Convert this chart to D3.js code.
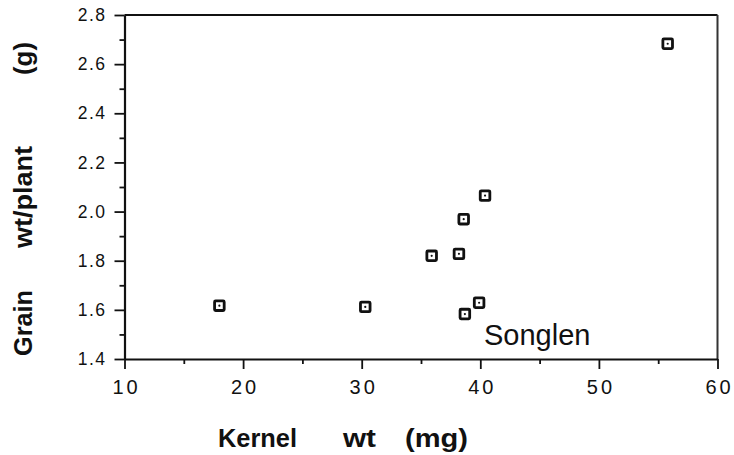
<!DOCTYPE html>
<html>
<head>
<meta charset="utf-8">
<script src="https://cdn.jsdelivr.net/npm/d3@7"></script>
<style>
  body { margin: 0; background: #fff; }
  svg { display: block; font-family: "Liberation Sans", Arial, Helvetica, sans-serif; }
  .axis path, .axis line { stroke: #111; }
  .axis text { fill: #111; }
</style>
</head>
<body>
<svg width="734" height="455"></svg>
<script>
// kernel weight (mg) and grain weight per plant (g)
var kernelWt = [18.0, 30.3, 35.9, 38.2, 38.6, 40.4, 38.7, 39.9, 55.8];
var grainWt  = [1.617, 1.612, 1.82, 1.828, 1.969, 2.065, 1.583, 1.629, 2.683];
var xTicks = [10, 20, 30, 40, 50, 60];
var yTicks = [1.4, 1.6, 1.8, 2.0, 2.2, 2.4, 2.6, 2.8];
var xMinor = [15, 25, 35, 45, 55];
var yMinor = [1.5, 1.7, 1.9, 2.1, 2.3, 2.5, 2.7];

var svg = d3.select("svg"),
    pLeft = 124.5, pRight = 717.5, pTop = 15, pBottom = 359;

var x = d3.scaleLinear().domain([10, 60]).range([pLeft, pRight]);
var y = d3.scaleLinear().domain([1.4, 2.8]).range([pBottom, pTop]);

// frame top + right
svg.append("line")
    .attr("x1", pLeft).attr("x2", pRight).attr("y1", pTop).attr("y2", pTop)
    .attr("stroke", "#111").attr("stroke-width", 2.2);
svg.append("line")
    .attr("x1", pRight).attr("x2", pRight).attr("y1", pTop).attr("y2", pBottom)
    .attr("stroke", "#333").attr("stroke-width", 2);

var xAxis = svg.append("g")
    .attr("class", "axis")
    .attr("transform", "translate(0," + pBottom + ")")
    .call(d3.axisBottom(x).tickValues(xTicks).tickSize(10).tickSizeOuter(0).tickPadding(11)
        .tickFormat(d3.format("d")));
xAxis.selectAll("text").style("font-size", "20px").style("letter-spacing", "3px")
    .attr("dx", "1.5px");
xAxis.select(".domain").attr("stroke-width", 2.2);
xAxis.selectAll("line").attr("stroke-width", 1.8);

svg.append("g")
    .attr("class", "axis")
    .attr("transform", "translate(0," + pBottom + ")")
    .call(d3.axisBottom(x).tickValues(xMinor).tickSize(5).tickFormat(""))
    .call(function (g) { g.select(".domain").remove(); })
    .selectAll("line").attr("stroke-width", 1.8);

var yAxis = svg.append("g")
    .attr("class", "axis")
    .attr("transform", "translate(" + pLeft + ",0)")
    .call(d3.axisLeft(y).tickValues(yTicks).tickSize(10).tickSizeOuter(0).tickPadding(8)
        .tickFormat(d3.format(".1f")));
yAxis.selectAll("text").style("font-size", "17.5px").style("letter-spacing", "1.5px");
yAxis.select(".domain").attr("stroke-width", 2.2);
yAxis.selectAll("line").attr("stroke-width", 1.8);

svg.append("g")
    .attr("class", "axis")
    .attr("transform", "translate(" + pLeft + ",0)")
    .call(d3.axisLeft(y).tickValues(yMinor).tickSize(5).tickFormat(""))
    .call(function (g) { g.select(".domain").remove(); })
    .selectAll("line").attr("stroke-width", 1.8);

// points: open squares with a dot in the middle
var pts = svg.append("g").selectAll("g")
    .data(kernelWt)
    .enter()
    .append("g")
    .attr("transform", function (d, i) { return "translate(" + x(d) + "," + y(grainWt[i]) + ")"; });

pts.append("rect")
    .attr("x", -4.8).attr("y", -4.8)
    .attr("width", 9.6).attr("height", 9.6)
    .attr("rx", 1)
    .attr("fill", "#fff").attr("stroke", "#111").attr("stroke-width", 2.8);
pts.append("circle")
    .attr("r", 1.1)
    .attr("fill", "#111");

svg.append("text")
    .attr("x", 484).attr("y", 345)
    .style("font-size", "29px")
    .attr("fill", "#111")
    .text("Songlen");

// axis titles, word by word (the original spaces them out a lot)
var xTitle = [{t: "Kernel", a: 218, w: 79}, {t: "wt", a: 343, w: 33}, {t: "(mg)", a: 405, w: 63}];
svg.append("g").selectAll("text")
    .data(xTitle)
    .enter()
    .append("text")
    .attr("x", function (d) {return d.a;})
    .attr("y", 447)
    .attr("textLength", function (d) {return d.w;})
    .attr("lengthAdjust", "spacingAndGlyphs")
    .style("font-size", "26px").style("font-weight", "bold")
    .attr("fill", "#111")
    .text(function (d) {return d.t;});

var yTitle = [{t: "Grain", a: 356, w: 66}, {t: "wt/plant", a: 248, w: 102}, {t: "(g)", a: 75, w: 33}];
svg.append("g").selectAll("text")
    .data(yTitle)
    .enter()
    .append("text")
    .attr("transform", function (d) {return "translate(32," + d.a + ") rotate(-90)";})
    .attr("textLength", function (d) {return d.w;})
    .attr("lengthAdjust", "spacingAndGlyphs")
    .style("font-size", "26px").style("font-weight", "bold")
    .attr("fill", "#111")
    .text(function (d) {return d.t;});
</script>
</body>
</html>
